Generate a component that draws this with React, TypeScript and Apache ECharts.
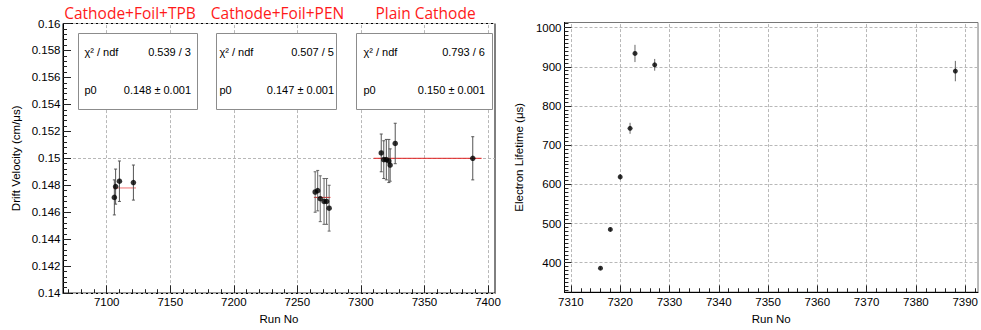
import React, { useEffect, useRef } from "react";
import * as echarts from "echarts";

// ---------- Data: drift velocity ----------
const tpbRuns = [7106, 7107, 7110, 7121];
const tpbVel = [0.1471, 0.1479, 0.1483, 0.1482];
const tpbErr = [0.0013, 0.0013, 0.0015, 0.0013];

const penRuns = [7264, 7266, 7268, 7271, 7273, 7275];
const penVel = [0.1475, 0.1476, 0.147, 0.1468, 0.1468, 0.1463];
const penErr = [0.0015, 0.0015, 0.0017, 0.0017, 0.0017, 0.0017];

const plainRuns = [7316, 7318, 7320, 7322, 7323, 7327, 7388];
const plainVel = [0.1504, 0.1499, 0.1499, 0.1498, 0.1495, 0.1511, 0.15];
const plainErr = [0.0014, 0.0014, 0.0015, 0.0016, 0.0012, 0.0015, 0.0016];

// fit constants p0 and fit ranges
const fitNames = ["Cathode+Foil+TPB", "Cathode+Foil+PEN", "Plain Cathode"];
const fitP0 = [0.1478, 0.1471, 0.15];
const fitFrom = [7105, 7263, 7310];
const fitTo = [7123, 7276, 7395];
const fitChi2 = ["0.539 / 3", "0.507 / 5", "0.793 / 6"];
const fitP0Text = ["0.148 ± 0.001", "0.147 ± 0.001", "0.150 ± 0.001"];

// ---------- Data: electron lifetime ----------
const ltRuns = [7316, 7318, 7320, 7322, 7323, 7327, 7388];
const ltVals = [386, 485, 619, 743, 934, 905, 889];
const ltErr = [4, 5, 7, 14, 22, 15, 26];

// ---------- Ticks ----------
const leftXMajor = [7100, 7150, 7200, 7250, 7300, 7350, 7400];
const leftXMinor = [7070, 7080, 7090, 7110, 7120, 7130, 7140, 7160, 7170, 7180, 7190, 7210, 7220, 7230, 7240, 7260, 7270, 7280, 7290, 7310, 7320, 7330, 7340, 7360, 7370, 7380, 7390];
const leftYMajor = [0.142, 0.144, 0.146, 0.148, 0.15, 0.152, 0.154, 0.156, 0.158];
const leftYLabels = [0.14, 0.142, 0.144, 0.146, 0.148, 0.15, 0.152, 0.154, 0.156, 0.158, 0.16];
const leftYMinor = [0.1404, 0.1408, 0.1412, 0.1416, 0.1424, 0.1428, 0.1432, 0.1436, 0.1444, 0.1448, 0.1452, 0.1456, 0.1464, 0.1468, 0.1472, 0.1476, 0.1484, 0.1488, 0.1492, 0.1496, 0.1504, 0.1508, 0.1512, 0.1516, 0.1524, 0.1528, 0.1532, 0.1536, 0.1544, 0.1548, 0.1552, 0.1556, 0.1564, 0.1568, 0.1572, 0.1576, 0.1584, 0.1588, 0.1592, 0.1596];
const rightXMajor = [7310, 7320, 7330, 7340, 7350, 7360, 7370, 7380, 7390];
const rightXMinor = [7312, 7314, 7316, 7318, 7322, 7324, 7326, 7328, 7332, 7334, 7336, 7338, 7342, 7344, 7346, 7348, 7352, 7354, 7356, 7358, 7362, 7364, 7366, 7368, 7372, 7374, 7376, 7378, 7382, 7384, 7386, 7388, 7392];
const rightYMajor = [400, 500, 600, 700, 800, 900, 1000];
const rightYMinor = [330, 340, 350, 360, 370, 380, 390, 410, 420, 430, 440, 450, 460, 470, 480, 490, 510, 520, 530, 540, 550, 560, 570, 580, 590, 610, 620, 630, 640, 650, 660, 670, 680, 690, 710, 720, 730, 740, 750, 760, 770, 780, 790, 810, 820, 830, 840, 850, 860, 870, 880, 890, 910, 920, 930, 940, 950, 960, 970, 980, 990, 1010];

const FONT = "Liberation Sans";

const LX = [7065.6, 7405.5];
const LY = [0.14, 0.16];
const RX = [7308.7, 7392.6];
const RY = [325, 1013];

function zip3(a: number[], b: number[], c: number[]) {
  return a.map((v, i) => [v, b[i], c[i]]);
}

function errBarSeries(data: number[][], gi: number, color: string, cap: number) {
  return {
    type: "custom",
    xAxisIndex: gi,
    yAxisIndex: gi,
    z: 3,
    silent: true,
    data,
    encode: { x: 0, y: 1 },
    renderItem: (params: any, api: any) => {
      const x = api.value(0);
      const y = api.value(1);
      const e = api.value(2);
      const t = api.coord([x, y + e]);
      const b = api.coord([x, y - e]);
      const st = { stroke: color, lineWidth: 1 };
      const children: any[] = [
        { type: "line", shape: { x1: t[0], y1: t[1], x2: b[0], y2: b[1] }, style: st },
      ];
      if (cap > 0) {
        children.push({ type: "line", shape: { x1: t[0] - cap, y1: t[1], x2: t[0] + cap, y2: t[1] }, style: st });
        children.push({ type: "line", shape: { x1: b[0] - cap, y1: b[1], x2: b[0] + cap, y2: b[1] }, style: st });
      }
      return { type: "group", children };
    },
  };
}

// tick segments as markLine pieces; ends given in data units of the axes
function tickSegs(dim: "x" | "y", values: number[], otherRange: number[], otherPx: number, len: number) {
  const span = otherRange[1] - otherRange[0];
  const a = otherRange[0] + span * 1e-6;
  const b = otherRange[0] + (span * len) / otherPx;
  return values.map((v) =>
    dim === "x" ? [{ coord: [v, a] }, { coord: [v, b] }] : [{ coord: [a, v] }, { coord: [b, v] }]
  );
}

function tickSeries(gi: number, segs: any[]) {
  return {
    type: "line",
    xAxisIndex: gi,
    yAxisIndex: gi,
    data: [],
    silent: true,
    markLine: {
      silent: true,
      z: 6,
      symbol: ["none", "none"],
      label: { show: false },
      lineStyle: { color: "#222", type: "solid", width: 1 },
      emphasis: { disabled: true },
      data: segs,
    },
  };
}

function pointSeries(data: number[][], gi: number, size: number) {
  return {
    type: "scatter",
    xAxisIndex: gi,
    yAxisIndex: gi,
    z: 4,
    silent: true,
    symbol: "circle",
    symbolSize: size,
    itemStyle: { color: "#000" },
    data: data.map((d) => [d[0], d[1]]),
  };
}

function gridLineSeries(gi: number, xs: number[], ys: number[]) {
  return {
    type: "line",
    xAxisIndex: gi,
    yAxisIndex: gi,
    data: [],
    silent: true,
    markLine: {
      silent: true,
      z: 1,
      symbol: ["none", "none"],
      label: { show: false },
      lineStyle: { color: "#b8b8b8", type: [3, 2], width: 1 },
      emphasis: { disabled: true },
      data: [...xs.map((v) => ({ xAxis: v })), ...ys.map((v) => ({ yAxis: v }))],
    },
  };
}

function makeAxis(
  dim: "x" | "y",
  gi: number,
  range: number[],
  major: number[],
  name: string,
  nameGap: number,
  labelMargin: number,
  fmt: (v: number) => string
) {
  const ax: any = {
    type: "value",
    gridIndex: gi,
    position: dim === "x" ? "bottom" : "left",
    min: range[0],
    max: range[1],
    name,
    nameLocation: "middle",
    nameGap,
    nameTextStyle: { fontFamily: FONT, fontSize: 11.5, color: "#000" },
    axisLine: { show: true, lineStyle: { color: "#000", width: 1 } },
    axisTick: { show: false },
    axisLabel: {
      show: true,
      customValues: major,
      margin: labelMargin,
      fontFamily: FONT,
      fontSize: 11.5,
      color: "#000",
      formatter: (v: number) => fmt(v),
      showMinLabel: true,
      showMaxLabel: true,
      hideOverlap: false,
    },
    splitLine: { show: false },
    minorTick: { show: false },
  };
  if (dim === "y") ax.nameRotate = 90;
  return ax;
}

export default function App() {
  const ref = useRef<HTMLDivElement>(null);

  useEffect(() => {
    if (!ref.current) return;
    const chart = echarts.init(ref.current, null, { renderer: "svg" });

    const tpb = zip3(tpbRuns, tpbVel, tpbErr);
    const pen = zip3(penRuns, penVel, penErr);
    const plain = zip3(plainRuns, plainVel, plainErr);
    const lt = zip3(ltRuns, ltVals, ltErr);

    const fitColors = ["#f07070", "#e82020", "#e02020"];

    const fitSeries = fitP0.map((p, i) => ({
      type: "line",
      xAxisIndex: 0,
      yAxisIndex: 0,
      z: 2,
      silent: true,
      symbol: "none",
      lineStyle: { color: fitColors[i], width: 1 },
      data: [
        [fitFrom[i], p],
        [fitTo[i], p],
      ],
    }));

    // stat boxes and titles
    const boxL = [78.5, 216.5, 356.5];
    const boxR = [197.5, 336.5, 492.5];
    const textL = [84.5, 219.5, 363.5];
    const textR = [191, 334, 485];
    const titleCx = [130, 277.5, 425.5];
    const graphics: any[] = [];
    fitNames.forEach((n, i) => {
      graphics.push({
        type: "text",
        x: titleCx[i],
        y: 12.5,
        style: {
          text: n,
          fill: "#ff1a1a",
          font: `15.5px "Open Sans"`,
          textAlign: "center",
          textVerticalAlign: "middle",
        },
      });
      graphics.push({
        type: "rect",
        z: 10,
        shape: { x: boxL[i], y: 33.5, width: boxR[i] - boxL[i], height: 76 },
        style: { fill: "#fff", stroke: "#8c8c8c", lineWidth: 1 },
      });
      const ts = (t: string, x: number, y: number, align: string) => ({
        type: "text",
        z: 11,
        x,
        y,
        style: { text: t, fill: "#000", font: `11px "${FONT}"`, textAlign: align, textVerticalAlign: "middle" },
      });
      graphics.push(ts("χ² / ndf", textL[i], 52, "left"));
      graphics.push(ts(fitChi2[i], textR[i], 52, "right"));
      graphics.push(ts("p0", textL[i], 89.5, "left"));
      graphics.push(ts(fitP0Text[i], textR[i], 89.5, "right"));
    });

    const fmtY = (v: number) => String(+v.toFixed(3));
    const fmtI = (v: number) => String(Math.round(v));

    const LW = 432, LH = 278.5, RW = 417, RH = 281.5;

    const leftTicks = [
      ...tickSegs("x", leftXMajor, LY, LH, 8),
      ...tickSegs("x", leftXMinor, LY, LH, 4),
      ...tickSegs("y", leftYLabels, LX, LW, 8),
      ...tickSegs("y", leftYMinor, LX, LW, 4),
    ];
    const rightTicks = [
      ...tickSegs("x", rightXMajor, RY, RH, 7),
      ...tickSegs("x", rightXMinor, RY, RH, 4),
      ...tickSegs("y", rightYMajor, RX, RW, 7),
      ...tickSegs("y", rightYMinor, RX, RW, 4),
    ];

    chart.setOption({
      animation: false,
      backgroundColor: "#fff",
      grid: [
        { left: 63, top: 23.5, width: LW, height: LH, show: true, borderColor: "#000", borderWidth: 1, backgroundColor: "transparent" },
        { left: 564.5, top: 22.5, width: RW, height: RH, show: true, borderColor: "#777", borderWidth: 1, backgroundColor: "transparent" },
      ],
      xAxis: [
        makeAxis("x", 0, LX, leftXMajor, "Run No", 12.5, 3, fmtI),
        makeAxis("x", 1, RX, rightXMajor, "Run No", 13, 4, fmtI),
      ],
      yAxis: [
        makeAxis("y", 0, LY, leftYLabels, "Drift Velocity (cm/μs)", 41, 2.5, fmtY),
        makeAxis("y", 1, RY, rightYMajor, "Electron Lifetime (μs)", 40, 3, fmtI),
      ],
      graphic: graphics,
      series: [
        gridLineSeries(0, leftXMajor, leftYMajor),
        gridLineSeries(1, rightXMajor, rightYMajor),
        tickSeries(0, leftTicks),
        tickSeries(1, rightTicks),
        ...fitSeries,
        errBarSeries(tpb, 0, "#555", 1.5),
        errBarSeries(pen, 0, "#666", 1.5),
        errBarSeries(plain, 0, "#555", 1.5),
        pointSeries(tpb, 0, 5.5),
        pointSeries(pen, 0, 5.5),
        pointSeries(plain, 0, 5.5),
        errBarSeries(lt, 1, "#666", 0),
        pointSeries(lt, 1, 5),
      ],
    });

    return () => chart.dispose();
  }, []);

  return (
    <div
      ref={ref}
      style={{ position: "fixed", left: 0, top: 0, width: 981, height: 330, background: "#fff" }}
    />
  );
}
